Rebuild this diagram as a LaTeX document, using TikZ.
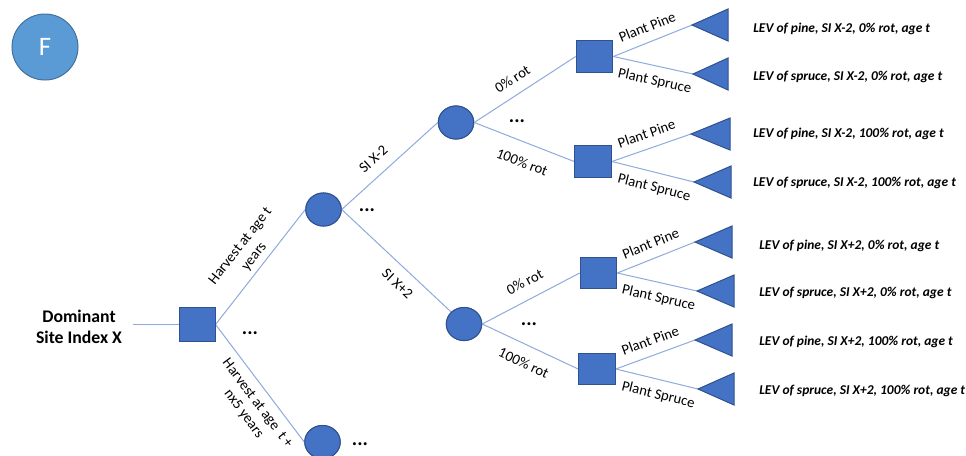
\documentclass[tikz,border=0pt]{standalone}
\usepackage{fontspec}
\setmainfont{Carlito}
\usetikzlibrary{shapes.geometric}
\definecolor{shapefill}{HTML}{4472C4}
\definecolor{shapeedge}{HTML}{2F528F}
\definecolor{linkblue}{HTML}{8FAADC}
\definecolor{badgefill}{HTML}{5B9BD5}
\definecolor{badgeedge}{HTML}{41719C}

\begin{document}
\begin{tikzpicture}[x=0.75pt,y=-0.75pt,
  link/.style={draw=linkblue, line width=0.75pt},
  decision/.style={rectangle, fill=shapefill, draw=shapeedge, line width=0.75pt,
    minimum width=27.5pt, minimum height=23.5pt, inner sep=0pt},
  chance/.style={ellipse, fill=shapefill, draw=shapeedge, line width=0.75pt,
    minimum width=26.6pt, minimum height=24.8pt, inner sep=0pt},
  leaf/.style={fill=shapefill, draw=shapeedge, line width=0.75pt, line join=miter},
  edgetext/.style={font=\fontsize{11}{13}\selectfont, sloped, align=center},
  levtext/.style={font=\fontsize{10.1}{12}\selectfont\bfseries\itshape, anchor=west, inner sep=0pt},
  more/.style={font=\fontsize{15}{15}\selectfont\bfseries, inner sep=0pt},
]
\useasboundingbox (0,0) rectangle (966,455);
\fill[white] (0,0) rectangle (966,455);

% badge
\node[circle, fill=badgefill, draw=badgeedge, line width=0.75pt, minimum size=49.5pt,
  inner sep=0pt, font=\fontsize{20}{20}\selectfont, text=white] (badge) at (45,47) {F};

% root of the tree
\node[font=\fontsize{13.3}{15.8}\selectfont\bfseries, align=center, inner sep=0pt]
  (dom) at (79,326.5) {Dominant\\Site Index X};
\coordinate (domtip) at (133,324.5);
\node[decision, minimum width=26.3pt, minimum height=24.8pt] (root) at (197.5,324.5) {};

% chance nodes
\node[chance] (c1) at (323.5,209.5) {};
\node[chance] (cb) at (322.5,442) {};
\node[chance] (c2) at (456,122.5) {};
\node[chance] (c3) at (464,324) {};

% decision nodes
\node[decision] (sa) at (594.5,56.5) {};
\node[decision] (sb) at (593,161.5) {};
\node[decision] (sc) at (598.5,273) {};
\node[decision] (sd) at (597,369) {};

% tips of the end triangles
\coordinate (t1) at (692,25);
\coordinate (t2) at (693,74);
\coordinate (t3) at (691,134);
\coordinate (t4) at (694,182);
\coordinate (t5) at (695,242);
\coordinate (t6) at (697,291);
\coordinate (t7) at (695,340);
\coordinate (t8) at (698,389);

% connectors
\draw[link] (domtip) -- (root.west);
\draw[link] (root.east) -- node[edgetext, pos=0.53, above, inner sep=3.5pt]
  {Harvest at age t\\years} (c1.west);
\draw[link] (root.east) -- node[edgetext, pos=0.6, below, inner sep=6pt]
  {Harvest at age\ \ t +\\nx5 years} (cb.west);
\draw[link] (c1.east) -- node[edgetext, pos=0.44, above, inner sep=8pt] {SI X-2} (c2.west);
\draw[link] (c1.east) -- node[edgetext, pos=0.61, below, inner sep=8pt] {SI X+2} (c3.north west);
\draw[link] (c2.east) -- node[edgetext, pos=0.46, above, inner sep=7.5pt] {0\% rot} (sa.west);
\draw[link] (c2.east) -- node[edgetext, pos=0.55, below, inner sep=10.5pt] {100\% rot} (sb.west);
\draw[link] (c3.east) -- node[edgetext, pos=0.52, above, inner sep=9pt] {0\% rot} (sc.west);
\draw[link] (c3.east) -- node[edgetext, pos=0.51, below, inner sep=9pt] {100\% rot} (sd.west);
\foreach \s/\up/\dn in {sa/t1/t2, sb/t3/t4, sc/t5/t6, sd/t7/t8}{
  \draw[link] (\s.east) -- node[edgetext, pos=0.5, above, inner sep=7pt] {Plant Pine} (\up);
  \draw[link] (\s.east) -- node[edgetext, pos=0.56, below, inner sep=6.5pt] {Plant Spruce} (\dn);
}

% end triangles
\foreach \t/\w in {t1/36, t2/35, t3/39, t4/37, t5/37, t6/37, t7/37, t8/36}{
  \filldraw[leaf] (\t) -- ++(\w,-16) -- ++(0,32) -- cycle;
}

% repeat the nodes on top of the connectors
\node[decision, minimum width=26.3pt, minimum height=24.8pt] at (root) {};
\node[chance] at (c1) {};
\node[chance] at (cb) {};
\node[chance] at (c2) {};
\node[chance] at (c3) {};
\node[decision] at (sa) {};
\node[decision] at (sb) {};
\node[decision] at (sc) {};
\node[decision] at (sd) {};

% further branches left out
\node[more] (m1) at (250,333) {...};
\node[more] (m2) at (367,210) {...};
\node[more] (m3) at (517,121) {...};
\node[more] (m4) at (529,324) {...};
\node[more] (m5) at (360,444) {...};

% land expectation values
\node[levtext] (v1) at (753,29)  {LEV of pine, SI X-2, 0\% rot, age t};
\node[levtext] (v2) at (753,77)  {LEV of spruce, SI X-2, 0\% rot, age t};
\node[levtext] (v3) at (753,134) {LEV of pine, SI X-2, 100\% rot, age t};
\node[levtext] (v4) at (753,183) {LEV of spruce, SI X-2, 100\% rot, age t};
\node[levtext] (v5) at (759,246) {LEV of pine, SI X+2, 0\% rot, age t};
\node[levtext] (v6) at (759,293) {LEV of spruce, SI X+2, 0\% rot, age t};
\node[levtext] (v7) at (759,342) {LEV of pine, SI X+2, 100\% rot, age t};
\node[levtext] (v8) at (759,391) {LEV of spruce, SI X+2, 100\% rot, age t};
\end{tikzpicture}
\end{document}
